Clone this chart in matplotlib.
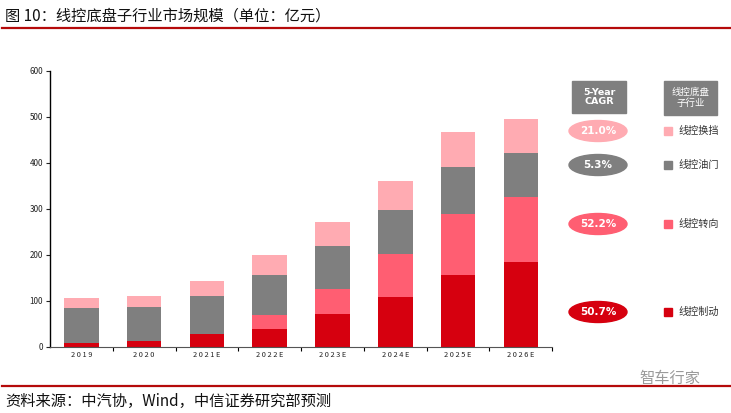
import matplotlib
matplotlib.use("Agg")
import matplotlib.pyplot as plt
from matplotlib.patches import Ellipse, Rectangle
from matplotlib.lines import Line2D
import numpy as np

plt.rcParams['font.family'] = ['Noto Sans CJK SC', 'DejaVu Sans']

years = ['2019', '2020', '2021E', '2022E', '2023E', '2024E', '2025E', '2026E']
brake = [9, 13, 27, 39, 72, 108, 156, 184]      # 线控制动
steering = [0, 0, 0, 31, 54, 94, 133, 142]      # 线控转向
throttle = [75, 73, 83, 87, 92, 95, 102, 95]    # 线控油门
shift = [21, 24, 33, 43, 53, 64, 77, 74]        # 线控换挡

series_names = ['线控换挡', '线控油门', '线控转向', '线控制动']
cagr_labels = ['21.0%', '5.3%', '52.2%', '50.7%']
colors = ['#FFABB2', '#7F7F7F', '#FF5E72', '#D6000F']

fig = plt.figure(figsize=(7.31, 4.13), dpi=100)
ax = fig.add_axes([0.0684, 0.1605, 0.687, 0.668])

x = np.arange(len(years))
w = 0.55
b = np.zeros(len(years))
for vals, c in zip([brake, steering, throttle, shift], colors[::-1]):
    ax.bar(x, vals, w, bottom=b, color=c, edgecolor='none')
    b += np.array(vals)

ax.set_xlim(-0.5, len(years) - 0.5)
ax.set_ylim(0, 600)
ax.set_yticks(range(0, 601, 100))
ax.tick_params(axis='y', labelsize=5.8, length=3, width=0.8, pad=2, colors='#222222')
ax.set_xticks(x)
ax.set_xticklabels([' '.join(y) for y in years], fontsize=5.3, color='#222222')
ax.tick_params(axis='x', length=0, pad=3)
ax.set_xticks(np.arange(0.5, len(years), 1), minor=True)
ax.tick_params(axis='x', which='minor', length=3, width=0.8, direction='out')
for s in ['top', 'right']:
    ax.spines[s].set_visible(False)
ax.spines['left'].set_linewidth(1.0)
ax.spines['bottom'].set_color('#555555')
ax.spines['bottom'].set_linewidth(0.8)

# title and red rules
fig.text(0.007, 0.962, '图 10：线控底盘子行业市场规模（单位：亿元）', fontsize=11,
         va='center', ha='left', color='#111111')
fig.add_artist(Line2D([0.003, 1.0], [0.932, 0.932], color='#B50A0A', lw=1.6))
fig.add_artist(Line2D([0.003, 1.0], [0.0654, 0.0654], color='#B50A0A', lw=1.6))
fig.text(0.007, 0.027, '资料来源：中汽协，Wind，中信证券研究部预测', fontsize=11,
         va='center', ha='left', color='#111111')
fig.text(0.875, 0.083, '智车行家', fontsize=11, va='center', ha='left', color='#9A9A9A')

# header boxes
W, H = 731.0, 413.0
def fx(px):
    return px / W
def fy(py):
    return 1 - py / H

fig.add_artist(Rectangle((fx(572), fy(113)), 54 / W, 32 / H, color='#7F7F7F',
                         transform=fig.transFigure))
fig.text(fx(599), fy(97), '5-Year\nCAGR', fontsize=6.8, fontweight='bold', color='white',
         ha='center', va='center', linespacing=1.1, family='DejaVu Sans')
fig.add_artist(Rectangle((fx(664), fy(115)), 53 / W, 34 / H, color='#7F7F7F',
                         transform=fig.transFigure))
fig.text(fx(690.5), fy(98), '线控底盘\n子行业', fontsize=6.8, color='white',
         ha='center', va='center', linespacing=1.2)

ey = [131, 165, 224, 312]
for lab, name, c, yy in zip(cagr_labels, series_names, colors, ey):
    fig.add_artist(Ellipse((fx(598), fy(yy)), 58 / W, 21 / H, color=c,
                           transform=fig.transFigure))
    fig.text(fx(598), fy(yy), lab, fontsize=7.5, fontweight='bold', color='white',
             ha='center', va='center', family='DejaVu Sans')
    fig.add_artist(Rectangle((fx(664), fy(yy + 4)), 8 / W, 8 / H, color=c,
                             transform=fig.transFigure))
    fig.text(fx(678), fy(yy), name, fontsize=7.3, color='#333333', ha='left', va='center')

fig.savefig('out.png', dpi=100)
